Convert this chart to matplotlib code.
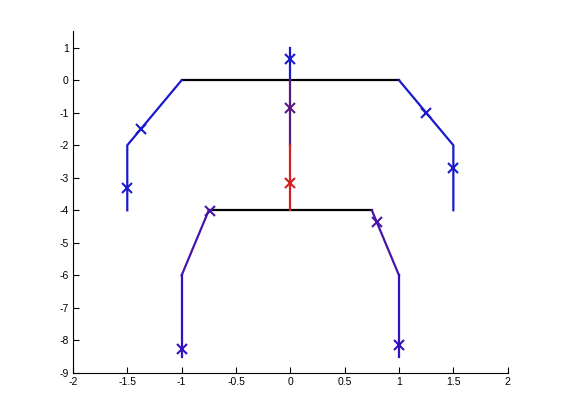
import numpy as np
import matplotlib
matplotlib.use("Agg")
import matplotlib.pyplot as plt

# colours
blue = "#1a1acc"
purple = "#5a1a80"
red = "#d42020"
violet = "#4a14a8"
indigo = "#3410c0"
black = "#000000"

# upper frame
top_bar_x = [-1, 1]
top_bar_y = [0, 0]
left_arm_x = [-1, -1.5, -1.5]
left_arm_y = [0, -2, -4]
right_arm_x = [1, 1.5, 1.5]
right_arm_y = [0, -2, -4]

# central post
post_top_x = [0, 0]
post_top_y = [1, 0]
post_mid_x = [0, 0]
post_mid_y = [0, -2]
post_low_x = [0, 0]
post_low_y = [-2, -4]

# lower frame
low_bar_x = [-0.75, 0.75]
low_bar_y = [-4, -4]
left_thigh_x = [-0.75, -1]
left_thigh_y = [-4, -6]
left_shin_x = [-1, -1]
left_shin_y = [-6, -8.5]
right_thigh_x = [0.75, 1]
right_thigh_y = [-4, -6]
right_shin_x = [1, 1]
right_shin_y = [-6, -8.5]

# cross markers
mark_blue_x = [-1.37, -1.5, 1.25, 1.5, 0]
mark_blue_y = [-1.5, -3.3, -1.0, -2.7, 0.65]
mark_purple_x = [0]
mark_purple_y = [-0.85]
mark_red_x = [0]
mark_red_y = [-3.15]
mark_violet_x = [-0.74, 0.8]
mark_violet_y = [-4.02, -4.35]
mark_indigo_x = [-1, 1]
mark_indigo_y = [-8.27, -8.15]

fig = plt.figure(figsize=(5.61, 4.19), dpi=100)
ax = fig.add_axes([0.13, 0.11, 0.775, 0.815])

lw = 1.6
ax.plot(top_bar_x, top_bar_y, color=black, lw=lw)
ax.plot(low_bar_x, low_bar_y, color=black, lw=lw)
ax.plot(left_arm_x, left_arm_y, color=blue, lw=lw)
ax.plot(right_arm_x, right_arm_y, color=blue, lw=lw)
ax.plot(post_top_x, post_top_y, color=blue, lw=lw)
ax.plot(post_mid_x, post_mid_y, color=purple, lw=lw)
ax.plot(post_low_x, post_low_y, color=red, lw=lw)
ax.plot(left_thigh_x, left_thigh_y, color=violet, lw=lw)
ax.plot(right_thigh_x, right_thigh_y, color=violet, lw=lw)
ax.plot(left_shin_x, left_shin_y, color=indigo, lw=lw)
ax.plot(right_shin_x, right_shin_y, color=indigo, lw=lw)

ms = 7
mew = 1.5
ax.plot(mark_blue_x, mark_blue_y, "x", color=blue, ms=ms, mew=mew)
ax.plot(mark_purple_x, mark_purple_y, "x", color=purple, ms=ms, mew=mew)
ax.plot(mark_red_x, mark_red_y, "x", color=red, ms=ms, mew=mew)
ax.plot(mark_violet_x, mark_violet_y, "x", color=violet, ms=ms, mew=mew)
ax.plot(mark_indigo_x, mark_indigo_y, "x", color=indigo, ms=ms, mew=mew)

ax.set_xlim(-2, 2)
ax.set_ylim(-9, 1.5)
ax.set_xticks(np.arange(-2, 2.01, 0.5))
ax.set_yticks(np.arange(-9, 1.01, 1))
ax.set_xticklabels(["%g" % v for v in np.arange(-2, 2.01, 0.5)])
ax.set_yticklabels(["%g" % v for v in np.arange(-9, 1.01, 1)])
ax.tick_params(direction="in", length=4, width=0.8, labelsize=7.5, pad=3)
for lab in ax.get_xticklabels() + ax.get_yticklabels():
    lab.set_family("Liberation Sans")
ax.spines["top"].set_visible(False)
ax.spines["right"].set_visible(False)
ax.spines["left"].set_linewidth(0.8)
ax.spines["bottom"].set_linewidth(0.8)

fig.savefig("out.png", dpi=100)
